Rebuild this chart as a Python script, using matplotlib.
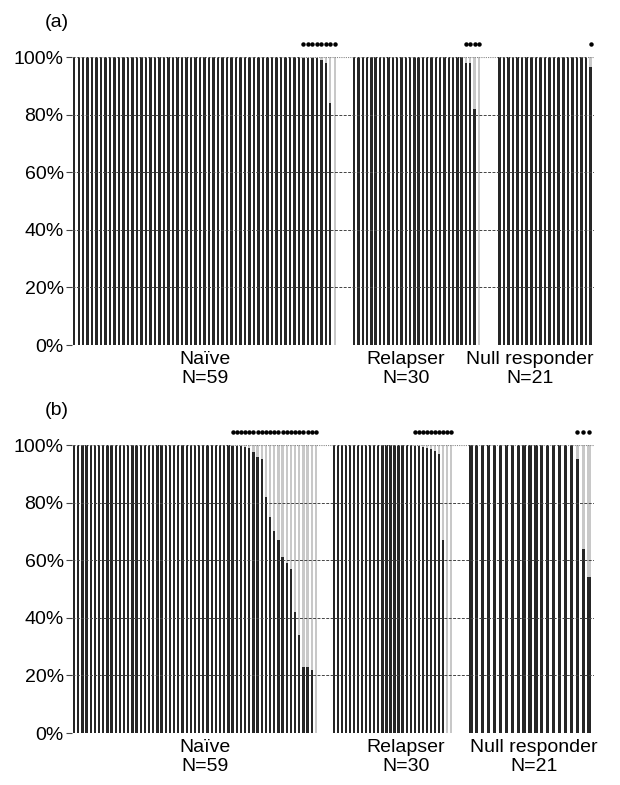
import numpy as np
import matplotlib
matplotlib.use("Agg")
import matplotlib.pyplot as plt

plt.rcParams['font.family'] = ['Liberation Sans', 'DejaVu Sans']

groups = ["Naïve\nN=59", "Relapser\nN=30", "Null responder\nN=21"]

# share of the dominant (dark) population per patient, in %
naive_a = [100]*51 + [99.8, 99.8, 99.7, 99.5, 99, 98, 84, 0]
relapser_a = [100]*26 + [98, 98, 82, 0]
null_a = [100]*20 + [96.5]

naive_b = [100]*38 + [99.8, 99.7, 99.5, 99.3, 99, 97.5, 96, 95, 82, 75, 70,
                      67, 61, 59, 57, 42, 34, 23, 23, 22, 0]
relapser_b = [100]*20 + [99.8, 99.5, 99.3, 99, 98.5, 98, 97, 67, 0, 0]
null_b = [100]*18 + [95, 64, 54]

yticks = [0, 20, 40, 60, 80, 100]
ytick_labels = ["0%", "20%", "40%", "60%", "80%", "100%"]

# layout: group spans along x (pixel-like units), label x positions
spans_a = [(72, 337), (352, 481), (497, 593)]
spans_b = [(72, 318), (332, 453), (468, 592)]
label_x_a = [205, 406, 530]
label_x_b = [205, 406, 534]

dark = '#262626'
light = '#c8c8c8'

fig = plt.figure(figsize=(6.2, 7.85), dpi=100)
ax_a = fig.add_axes([72/620, 1-345/785, 522/620, 288/785])
ax_b = fig.add_axes([72/620, 1-733/785, 522/620, 288/785])


def draw_panel(ax, data, spans, label_x, tag):
    for vals, (x0, x1), lx, name in zip(data, spans, label_x, groups):
        vals = np.array(vals, dtype=float)
        n = len(vals)
        step = (x1 - x0) / n
        xs = x0 + (np.arange(n) + 0.5) * step
        ax.bar(xs, vals, width=step*0.55, color=dark, linewidth=0, zorder=2)
        ax.bar(xs, 100 - vals, bottom=vals, width=step*0.55, color=light,
               linewidth=0, zorder=2)
        # dots above patients with a minor population
        mark = vals < 100
        ax.plot(xs[mark], np.full(mark.sum(), 104.5), 'o', color='black',
                markersize=2.2, clip_on=False, zorder=4)
        ax.text(lx, -2.2, name, ha='center', va='top', fontsize=14,
                linespacing=1.12)
    for y in yticks[1:-1]:
        ax.axhline(y, color='#444444', lw=0.7, ls=(0, (3, 1.5)), zorder=3)
    ax.axhline(100, color='#888888', lw=0.8, ls=(0, (1, 1)), zorder=3)
    ax.axhline(0, color='#666666', lw=0.6, ls=(0, (1, 1)), zorder=3)
    ax.set_xlim(72, 594)
    ax.set_ylim(0, 100)
    ax.set_xticks([])
    ax.set_yticks(yticks)
    ax.set_yticklabels(ytick_labels, fontsize=14)
    ax.tick_params(axis='y', length=4, width=0.8, pad=2, color='#444444')
    for s in ax.spines.values():
        s.set_visible(False)
    ax.text(-0.03, 1.09, tag, transform=ax.transAxes, ha='center',
            va='bottom', fontsize=14)


draw_panel(ax_a, [naive_a, relapser_a, null_a], spans_a, label_x_a, "(a)")
draw_panel(ax_b, [naive_b, relapser_b, null_b], spans_b, label_x_b, "(b)")

fig.savefig("out.png", dpi=100)
